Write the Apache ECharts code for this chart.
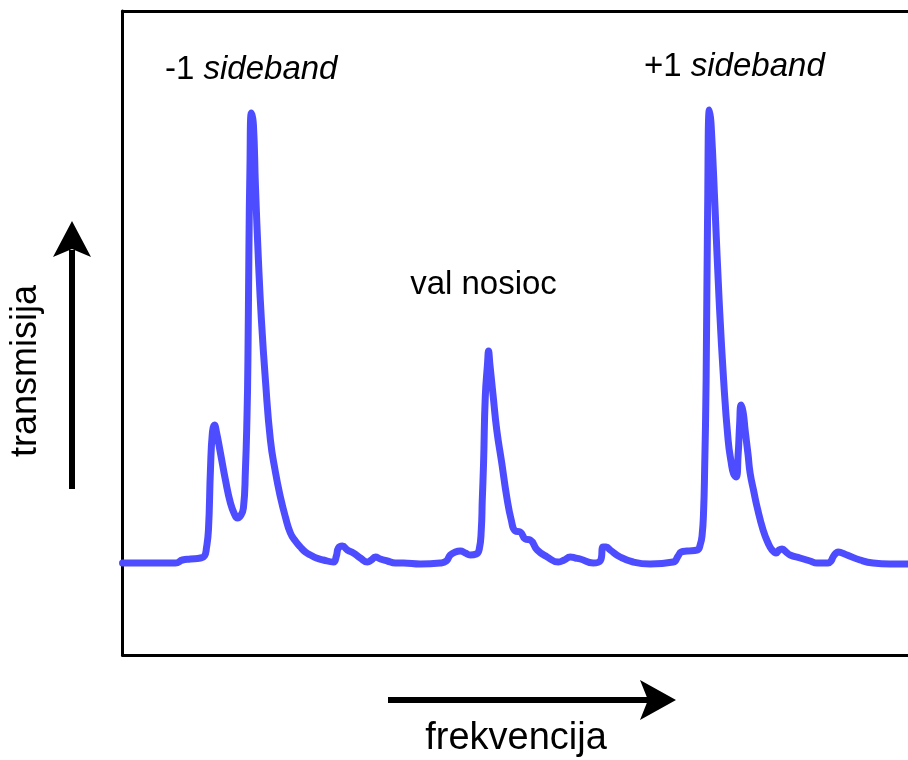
<!DOCTYPE html>
<html>
<head>
<meta charset="utf-8">
<script src="https://cdn.jsdelivr.net/npm/echarts@6/dist/echarts.min.js"></script>
<style>html,body{margin:0;padding:0;background:#fff;}#c{width:908px;height:760px;}</style>
</head>
<body>
<div id="c"></div>
<script>
// frequency (arbitrary units)
var freq = [0,28,53,60,68,78,82,84,86,88,90,92,94,98,103,108,112,115,118,121,123,124.5,125.5,126.5,127.5,129,131,133,136,139,143,148,153,158,163,168,173,178,183,188,194,201,211,214,216,220,225,231,238,245,249,253,258,265,273,281,298,318,324,328,333,338,343,348,354,357,359,360,361.3,363,365.3,366.3,367.5,371,374.5,379.5,384.5,389,393,398,403,408,415,425,436,442,448,453,458,471,478,481,484,488,498,511,528,551,556,559,565,575,578,580,581.5,582.5,584,585.5,587.3,589,593,597,601.5,606,609,611.5,614,616,617.5,619,621,623,626,628,632,635,641,646,650,654,657,660,664,668,678,688,695,706,709,711,714,716,720,725,738,751,768,786];
// transmission (arbitrary units)
var trans = [92,92,92,95,96,97,99,107,125,185,223,230,223,202,175,152,141,137,139,147,185,235,295,405,485,542,530,470,395,335,275,215,183,158,138,122,114,108,103,100,97,95,93,99,107,109,105,102,97,93,95,98,96,94,92,92,91,92,94,100,103,104,102,100,101,106,125,155,192,258,292,304,292,258,225,192,158,135,124,123,116,115,105,98,93,95,98,97,96,92,94,108,108,105,98,93,91,93,99,103,104,105,110,120,145,185,275,445,545,530,445,355,275,215,193,181,178,200,230,250,243,225,200,182,162,148,125,112,105,102,105,106,103,100,97,94,92,92,94,98,102,103,102,100,95,92,91,91];
var annotations = ["-1", "sideband", "+1", "sideband", "val nosioc"];
var xAxisName = "frekvencija";
var yAxisName = "transmisija";

var data = freq.map(function (f, i) { return [f, trans[i]]; });
var FONT = '"Liberation Sans", Arial, Helvetica, sans-serif';
var hidden = {axisTick: {show: false}, axisLabel: {show: false}, splitLine: {show: false}};
var border = {show: true, onZero: false, lineStyle: {color: '#000', width: 3}};

var chart = echarts.init(document.getElementById('c'), null, {renderer: 'canvas'});
chart.setOption({
  animation: false,
  backgroundColor: '#ffffff',
  grid: {left: 122.5, top: 11, right: 0, bottom: 105, show: false},
  xAxis: [
    Object.assign({type: 'value', position: 'bottom', min: 0, max: 786, axisLine: border}, hidden),
    Object.assign({type: 'value', position: 'top', min: 0, max: 786, axisLine: border}, hidden)
  ],
  yAxis: Object.assign({type: 'value', position: 'left', min: 0, max: 644, axisLine: border}, hidden),
  series: [{
    type: 'line',
    data: data,
    symbol: 'none',
    smooth: 0.5,
    clip: false,
    lineStyle: {color: '#4d4dff', width: 7, cap: 'round', join: 'round'}
  }],
  graphic: [
    {type: 'text', left: 165, top: 53, style: {text: '{n|' + annotations[0] + ' }{i|' + annotations[1] + '}', rich: {n: {fontFamily: FONT, fontSize: 33, fill: '#000'}, i: {fontFamily: FONT, fontSize: 33, fontStyle: 'italic', fill: '#000'}}}},
    {type: 'text', left: 644, top: 50, style: {text: '{n|' + annotations[2] + ' }{i|' + annotations[3] + '}', rich: {n: {fontFamily: FONT, fontSize: 33, fill: '#000'}, i: {fontFamily: FONT, fontSize: 33, fontStyle: 'italic', fill: '#000'}}}},
    {type: 'text', x: 483.5, y: 285, style: {text: annotations[4], fontFamily: FONT, fontSize: 33, fill: '#000', align: 'center', verticalAlign: 'middle'}},
    {type: 'text', x: 516, y: 739, style: {text: xAxisName, fontFamily: FONT, fontSize: 38, fill: '#000', align: 'center', verticalAlign: 'middle'}},
    {type: 'text', x: 26, y: 371, rotation: Math.PI / 2, style: {text: yAxisName, fontFamily: FONT, fontSize: 36, fill: '#000', align: 'center', verticalAlign: 'middle'}},
    {type: 'line', shape: {x1: 388, y1: 700, x2: 650, y2: 700}, style: {stroke: '#000', lineWidth: 6}},
    {type: 'polygon', shape: {points: [[676, 700], [640, 680], [648, 700], [640, 720]]}, style: {fill: '#000'}},
    {type: 'line', shape: {x1: 72, y1: 489, x2: 72, y2: 250}, style: {stroke: '#000', lineWidth: 6}},
    {type: 'polygon', shape: {points: [[72, 221], [53, 257], [72, 249], [91, 257]]}, style: {fill: '#000'}}
  ]
});
</script>
</body>
</html>
